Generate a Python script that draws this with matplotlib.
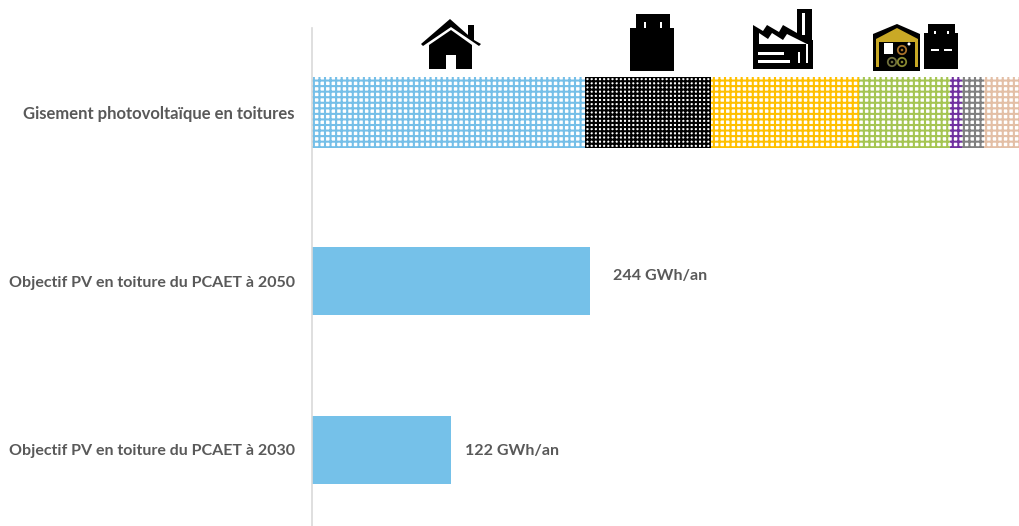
import matplotlib
matplotlib.use("Agg")
import matplotlib.pyplot as plt
from matplotlib.patches import Polygon, Rectangle, Circle

# Rooftop PV potential and PCAET targets (GWh/an)
categories = ["Objectif PV en toiture du PCAET à 2030",
              "Objectif PV en toiture du PCAET à 2050",
              "Gisement photovoltaïque en toitures"]
target_values = [122, 244]
target_labels = ["122 GWh/an", "244 GWh/an"]
potential_segments = [239.7, 110.6, 129.9, 79.9, 10.5, 19.3, 31.0]
segment_colors = ["#75bfe8", "#000000", "#ffc000", "#a5c552", "#7030a0", "#808080", "#e3bfa6"]
segment_hatches = ["+++", "++++", "+++", "+++", "+++", "+++", "+++"]
label_offsets_px = [14, 23]

W, H = 1019, 526
plt.rcParams["font.family"] = ["Lato", "DejaVu Sans"]
plt.rcParams["hatch.linewidth"] = 1.5
fig = plt.figure(figsize=(W / 100, H / 100), dpi=100)
ax = fig.add_axes([312 / W, (526 - 534.2) / H, (W - 312) / W, (534.2 - 28.2) / H])
text_color = "#595959"

# Lower bars: plain fill with a value label
ax.barh([0, 1], target_values, height=0.404, color="#75c1e9", linewidth=0)
for y, v, lab, off, dy in zip([0, 1], target_values, target_labels, label_offsets_px, [-1, 3.5]):
    ax.annotate(lab, (v, y), xytext=(off * 0.72, dy), textcoords="offset points",
                va="center", ha="left", fontsize=11.5, fontweight="bold", color=text_color)

# Top bar: stacked patterned segments
left = 0
for v, c, h in zip(potential_segments, segment_colors, segment_hatches):
    ax.barh(2, v, left=left, height=0.42, facecolor="white", edgecolor=c, hatch=h, linewidth=0)
    left += v

ax.set_xlim(0, sum(potential_segments))
ax.set_ylim(-0.5, 2.5)
ax.set_yticks([0, 1, 2], categories)
ax.set_xticks([])
ax.tick_params(axis="y", length=0, pad=12.3, labelsize=11.5, labelcolor=text_color)
for t in ax.get_yticklabels():
    t.set_fontweight("bold")
ax.get_yticklabels()[2].set_fontsize(11.95)
for s in ["top", "right", "bottom"]:
    ax.spines[s].set_visible(False)
ax.spines["left"].set_color("#d9d9d9")
ax.spines["left"].set_linewidth(1.2)

# Overlay in pixel coordinates for the sector pictograms
ov = fig.add_axes([0, 0, 1, 1], facecolor="none")
ov.set_xlim(0, W)
ov.set_ylim(H, 0)
ov.axis("off")

def poly(pts, color="black", **kw):
    ov.add_patch(Polygon(pts, closed=True, facecolor=color, edgecolor="none", **kw))

def box(x0, y0, x1, y1, color="white"):
    ov.add_patch(Rectangle((x0, y0), x1 - x0, y1 - y0, facecolor=color, edgecolor="none"))

def log(x, y, color):
    ov.add_patch(Circle((x, y), 4.2, facecolor="black", edgecolor=color, linewidth=1.3))
    ov.add_patch(Circle((x, y), 1.3, facecolor=color, edgecolor="none"))

# House
poly([(421, 44), (450, 19), (468, 35), (468, 25), (474, 25), (474, 40), (481, 44),
      (479, 46), (451, 27), (423, 46)])
poly([(429, 69), (429, 45), (451, 30), (472, 45), (472, 69), (456, 69), (456, 55), (446, 55), (446, 69)])

# Block of flats
poly([(630, 71), (630, 28), (636, 28), (636, 14), (670, 14), (670, 28), (674, 28), (674, 71)])
box(644, 22, 646, 28)
box(660, 22, 662, 28)

# Factory
poly([(753, 69), (753, 25), (763, 31), (767, 25), (779, 32), (783, 25), (797, 33), (797, 9),
      (812, 9), (812, 40), (813, 40), (813, 69)])
poly([(759, 33), (768, 39), (772, 33), (783, 40), (787, 34), (807, 44), (759, 44)], color="white")
box(802.5, 13, 805, 35)
box(758, 52, 784, 55)
box(758, 60, 790, 63)
box(798, 52, 800, 63)
box(806, 44, 808, 63)

# Barn with wood logs
poly([(873, 71), (873, 34), (897, 24), (920, 34), (920, 71)])
poly([(876, 39), (897, 28), (918, 39), (918, 67), (915, 67), (915, 42), (879, 42), (879, 67), (876, 67)],
     color="#c9a926")
box(884, 43, 893, 54)
ov.add_patch(Circle((909, 44), 0.8, color="white"))
log(902, 50, "#a8702a")
log(892, 62, "#70703c")
log(902, 62, "#8a8a30")

# Second building
poly([(924, 69), (924, 33), (928, 33), (928, 24), (955, 24), (955, 33), (958, 33), (958, 69)])
box(934, 31, 936, 34)
box(947, 31, 949, 34)
box(931, 49, 939, 50.5)
box(944, 49, 952, 50.5)

fig.savefig("out.png", dpi=100)
